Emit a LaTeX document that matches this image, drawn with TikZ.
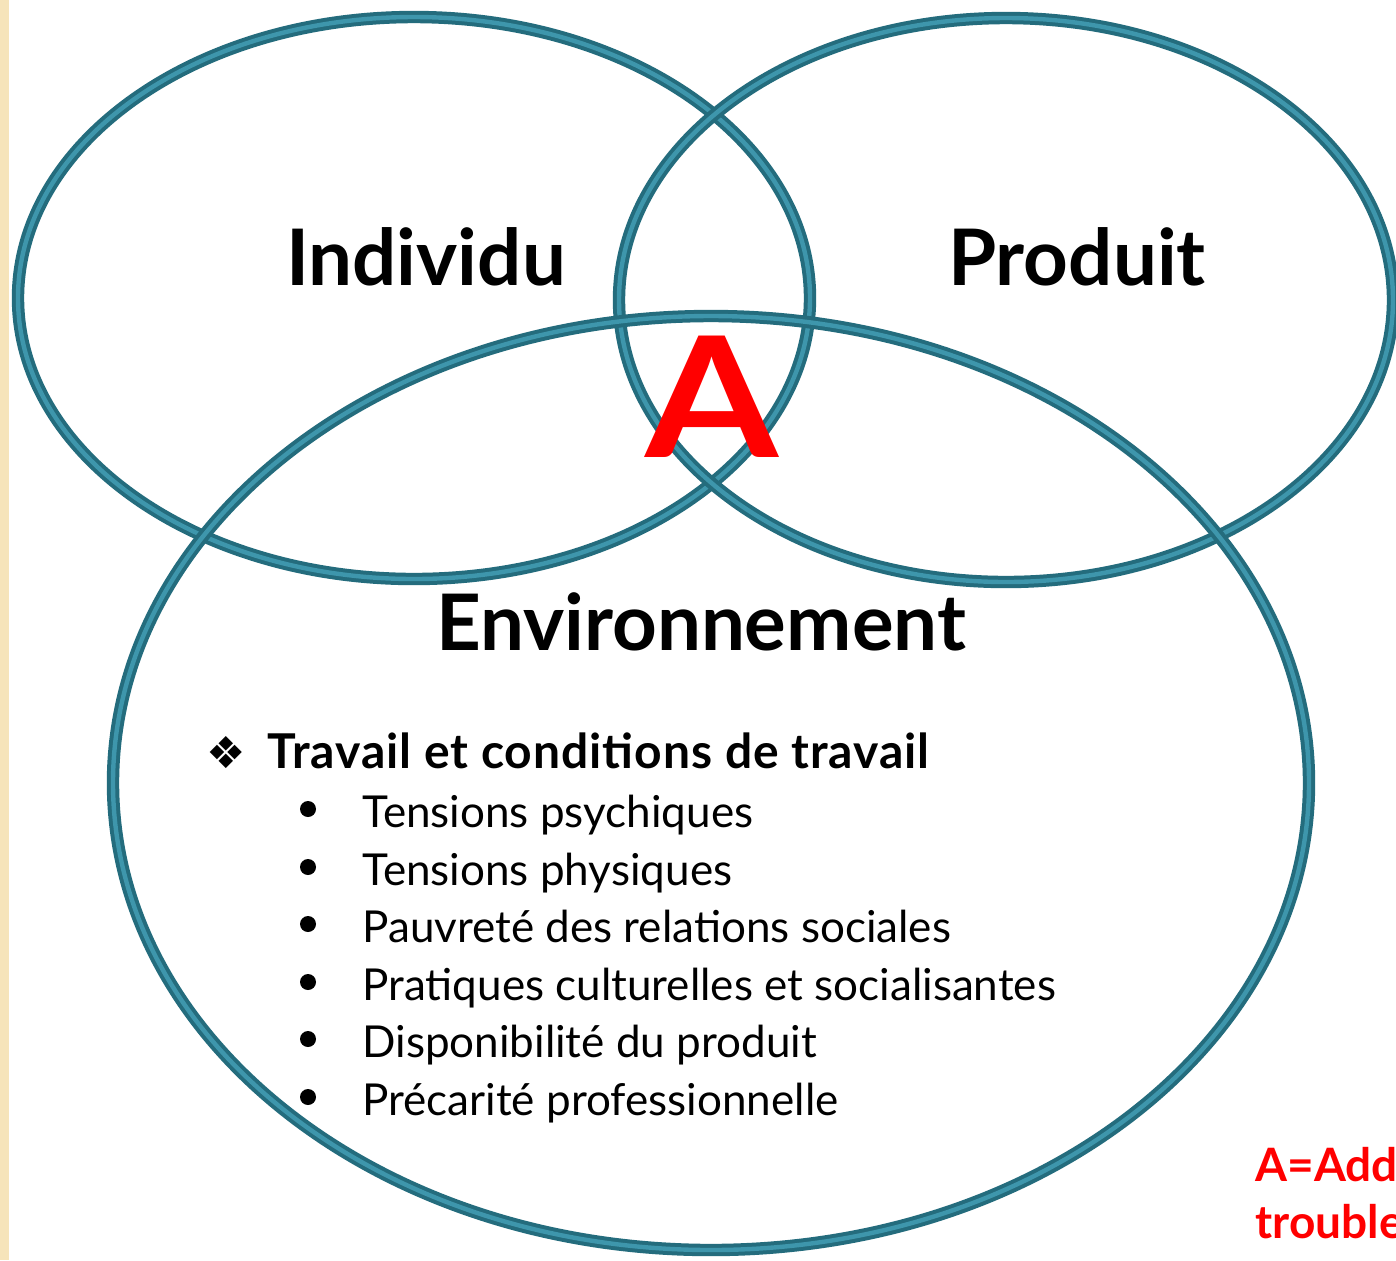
\documentclass[tikz,border=0pt]{standalone}
\usepackage{fontspec}
\setmainfont{Lato}
\newfontfamily\symfont{DejaVu Sans}
\newfontfamily\headfont[LetterSpace=2]{Lato}
\usepackage{tikz}
\usetikzlibrary{positioning}
\definecolor{ringdark}{RGB}{36,108,125}
\definecolor{ringlight}{RGB}{62,150,172}
\definecolor{stripbeige}{RGB}{246,228,186}
\definecolor{alertred}{RGB}{255,0,0}
\tikzset{
  ring/.style={draw=ringdark,line width=2pt,double=ringlight,double distance=2.2pt},
  settitle/.style={font=\fontsize{39}{41}\selectfont\bfseries,inner sep=0pt},
  heading/.style={font=\headfont\fontsize{24}{26}\selectfont\bfseries,anchor=base west,inner sep=0pt},
  item/.style={font=\fontsize{22}{24}\selectfont,anchor=base west,inner sep=0pt},
  dot/.style={circle,fill=black,inner sep=0pt,minimum size=8pt},
  legend/.style={font=\fontsize{23}{25}\selectfont\bfseries,text=alertred,anchor=base west,inner sep=0pt}
}

\begin{document}
\begin{tikzpicture}[x=0.5pt,y=-0.5pt]
  \useasboundingbox (0,0) rectangle (1396,1260);
  \fill[white] (0,0) rectangle (1396,1260);
  \fill[stripbeige] (0,0) rectangle (9,1260);

  % the three sets
  \draw[ring] (414,298) ellipse [x radius=396,y radius=281];
  \draw[ring] (1006,300) ellipse [x radius=387,y radius=282];
  \draw[ring] (711,783) ellipse [x radius=598,y radius=467];

  \node[settitle] (individu) at (426,257) {Individu};
  \node[settitle] (produit) at (1077,257) {Produit};
  \node[settitle] (environ) at (701,622) {Environnement};
  \node[font=\fontsize{84}{86}\selectfont\bfseries,text=alertred,inner sep=0pt] (addict) at (712,397) {\scalebox{1.14}[1]{A}};

  % list of factors
  \node[anchor=base west,inner sep=0pt,font=\symfont\fontsize{22}{24}\selectfont] (losange) at (206,768) {❖};
  \node[heading] (travail) at (267,768) {Travail et conditions de travail};
  \node[item] (t1) at (362,827) {Tensions psychiques};
  \node[item] (t2) at (362,885) {Tensions physiques};
  \node[item] (t3) at (362,942) {Pauvreté des relations sociales};
  \node[item] (t4) at (362,1000) {Pratiques culturelles et socialisantes};
  \node[item] (t5) at (362,1057) {Disponibilité du produit};
  \node[item] (t6) at (362,1115) {Précarité professionnelle};
  \foreach \i in {1,...,6}
    \node[dot] (b\i) at ([xshift=-27pt,yshift=9pt]t\i.base west) {};

  % legend, cut at the right edge
  \node[legend] (legA) at (1255,1181) {A=Addictions};
  \node[legend] (legB) at (1255,1238) {troubles};
\end{tikzpicture}
\end{document}
